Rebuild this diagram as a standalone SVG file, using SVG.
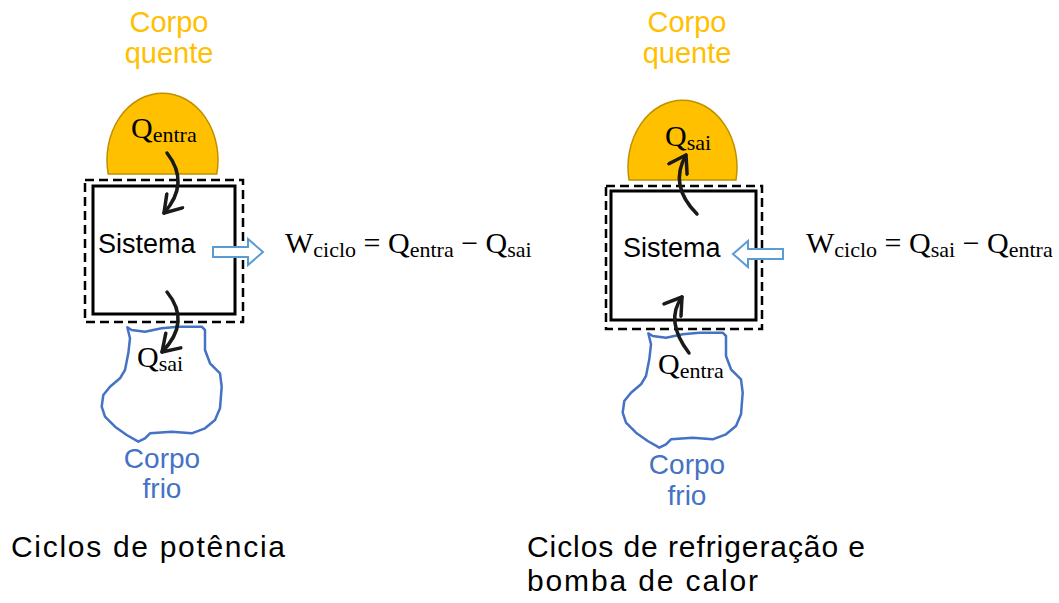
<svg xmlns="http://www.w3.org/2000/svg" width="1059" height="603" viewBox="0 0 1059 603">
<style>
.sans{font-family:"Liberation Sans",Arial,sans-serif;}
.math{font-family:"Liberation Serif","Times New Roman",serif;font-size:30px;fill:#000;}
.sub{font-size:22px;}
.hot{fill:#FFC000;stroke:#BF9000;stroke-width:1.5;}
.cold{fill:#fff;stroke:#4472C4;stroke-width:2.5;stroke-linejoin:round;}
.hotlbl{fill:#FFC000;font-size:29px;}
.coldlbl{fill:#4472C4;font-size:28px;}
.dash{fill:none;stroke:#000;stroke-width:2.5;stroke-dasharray:9 5;}
.sys{fill:#fff;stroke:#000;stroke-width:3;}
.heat{fill:none;stroke:#1a1a1a;stroke-width:3.5;stroke-linecap:round;}
.work{fill:#fff;stroke:#5B9BD5;stroke-width:2;stroke-linejoin:miter;}
.title{fill:#000;font-size:30px;}
</style>
<defs>
<marker id="chev" markerWidth="7" markerHeight="7" refX="5.2" refY="3.5" orient="auto" markerUnits="strokeWidth" viewBox="0 0 7 7">
<path d="M0.6,0.5 L5.2,3.5 L0.6,6.5" fill="none" stroke="#1a1a1a" stroke-width="1" stroke-linecap="round" stroke-linejoin="round"/>
</marker>
</defs>

<!-- Left: power cycle -->
<g id="hot-left">
<path class="hot" d="M108.2,174 A55.5,67 0 1 1 216.8,174 Z"/>
<text class="math" x="131" y="138">Q<tspan class="sub" dy="4">entra</tspan></text>
<text class="sans hotlbl" x="169" y="32" text-anchor="middle">Corpo</text>
<text class="sans hotlbl" x="169" y="63" text-anchor="middle">quente</text>
</g>
<g id="system-left">
<rect class="dash" x="85" y="180" width="158" height="142"/>
<rect class="sys" x="93" y="186" width="142" height="128"/>
<text class="sans" x="98" y="253" font-size="27">Sistema</text>
</g>
<g id="cold-left">
<path class="cold" d="M127.3,327.3 L130,338.3 L128.3,353.3 L125,370 L120,378.3 L110,386.7 L103.3,395 L101.7,406.7 L105,416.7 L115,426.7 L126.7,435 L138.3,441.7 L145,438.3 L150,433.3 L171.7,431.7 L191.7,433.3 L205,428.3 L215,420 L220,408.3 L221.7,386.7 L220,373.3 L210,363.3 L205,350 L205,330 L201.7,326.7 L178.3,326.7 L161.7,328.3 L145,331.7 L131.7,330 Z"/>
<text class="math" x="137" y="367">Q<tspan class="sub" dy="4">sai</tspan></text>
<text class="sans coldlbl" x="162" y="468" text-anchor="middle">Corpo</text>
<text class="sans coldlbl" x="162" y="498" text-anchor="middle">frio</text>
</g>
<g id="eq-left">
<text class="math" x="285" y="253">W<tspan class="sub" dy="4">ciclo</tspan><tspan dy="-4"> = Q</tspan><tspan class="sub" dy="4">entra</tspan><tspan dy="-4"> − Q</tspan><tspan class="sub" dy="4">sai</tspan></text>
</g>
<text class="sans title" x="11" y="557" textLength="274">Ciclos de potência</text>

<!-- Right: refrigeration / heat pump -->
<g id="hot-right">
<path class="hot" d="M629,180 A54.5,67 0 1 1 736,180 Z"/>
<text class="math" x="665" y="146">Q<tspan class="sub" dy="4">sai</tspan></text>
<text class="sans hotlbl" x="687" y="32" text-anchor="middle">Corpo</text>
<text class="sans hotlbl" x="687" y="63" text-anchor="middle">quente</text>
</g>
<g id="system-right">
<rect class="dash" x="606" y="186" width="156" height="143"/>
<rect class="sys" x="611" y="191" width="145" height="129"/>
<text class="sans" x="623" y="257" font-size="27">Sistema</text>
</g>
<g id="cold-right">
<path class="cold" transform="translate(521,6)" d="M127.3,327.3 L130,338.3 L128.3,353.3 L125,370 L120,378.3 L110,386.7 L103.3,395 L101.7,406.7 L105,416.7 L115,426.7 L126.7,435 L138.3,441.7 L145,438.3 L150,433.3 L171.7,431.7 L191.7,433.3 L205,428.3 L215,420 L220,408.3 L221.7,386.7 L220,373.3 L210,363.3 L205,350 L205,330 L201.7,326.7 L178.3,326.7 L161.7,328.3 L145,331.7 L131.7,330 Z"/>
<text class="math" x="658" y="374">Q<tspan class="sub" dy="4">entra</tspan></text>
<text class="sans coldlbl" x="687" y="474" text-anchor="middle">Corpo</text>
<text class="sans coldlbl" x="687" y="505" text-anchor="middle">frio</text>
</g>
<g id="eq-right">
<text class="math" x="806" y="253">W<tspan class="sub" dy="4">ciclo</tspan><tspan dy="-4"> = Q</tspan><tspan class="sub" dy="4">sai</tspan><tspan dy="-4"> − Q</tspan><tspan class="sub" dy="4">entra</tspan></text>
</g>
<text class="sans title" x="527" y="557" textLength="338">Ciclos de refrigeração e</text>
<text class="sans title" x="527" y="591" textLength="231">bomba de calor</text>

<!-- Connectors -->
<g id="connectors">
<path class="heat" d="M167,153 Q190.5,183 164,213" marker-end="url(#chev)"/>
<path class="heat" d="M167,292 Q191.5,322 162,352" marker-end="url(#chev)"/>
<path class="heat" d="M697,214 Q668.5,185.5 686,155" marker-end="url(#chev)"/>
<path class="heat" d="M689,353 Q664.5,321 682,297" marker-end="url(#chev)"/>
<polygon class="work" points="213,247 248,247 248,239 263,252 248,265 248,257 213,257"/>
<polygon class="work" points="733,254 748,241 748,249 783,249 783,259 748,259 748,267"/>
</g>
</svg>
